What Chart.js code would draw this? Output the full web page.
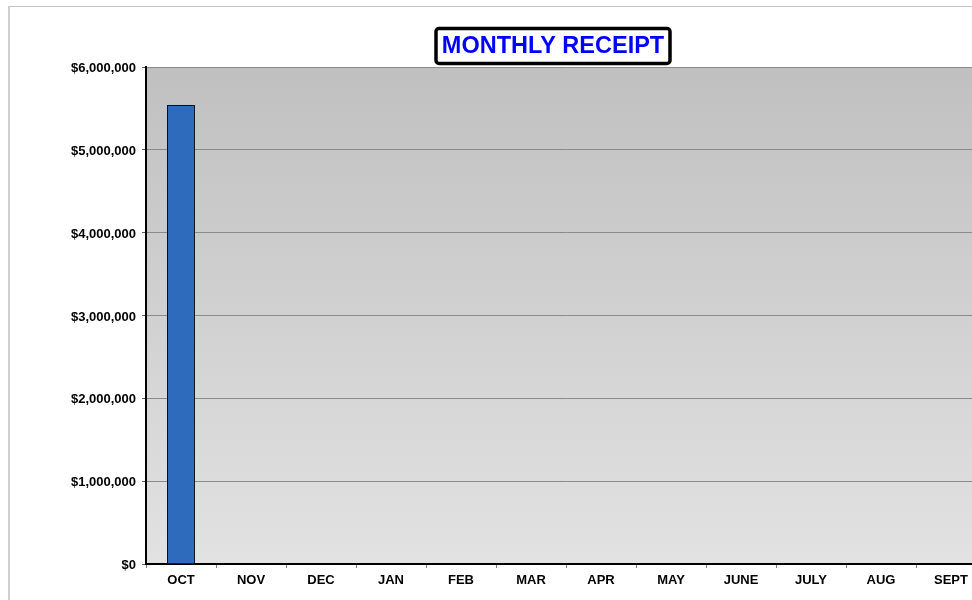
<!DOCTYPE html>
<html>
<head>
<meta charset="utf-8">
<script src="https://cdn.jsdelivr.net/npm/chart.js@4.4.1/dist/chart.umd.min.js"></script>
<style>
  html, body { margin: 0; padding: 0; background: #fff; overflow: hidden; width: 972px; height: 600px; }
  #frame { position: absolute; left: 8px; top: 6px; width: 1200px; height: 800px; border-top: 1px solid #c4c4c4; border-left: 2px solid #d0d0d0; }
  #wrap { position: absolute; left: 0; top: 0; width: 986px; height: 600px; }
</style>
</head>
<body>
<div id="frame"></div>
<div id="wrap"><canvas id="c"></canvas></div>
<script>
const TITLE = 'MONTHLY RECEIPT';
const months = ['OCT', 'NOV', 'DEC', 'JAN', 'FEB', 'MAR', 'APR', 'MAY', 'JUNE', 'JULY', 'AUG', 'SEPT'];
const receipts = [5540000, null, null, null, null, null, null, null, null, null, null, null];
const yTicks = [0, 1000000, 2000000, 3000000, 4000000, 5000000, 6000000];

const bgPlugin = {
  id: 'bg',
  beforeDraw(chart) {
    const { ctx, chartArea: a } = chart;
    const g = ctx.createLinearGradient(0, a.top, 0, a.bottom);
    g.addColorStop(0, '#c0c0c0');
    g.addColorStop(1, '#e2e2e2');
    ctx.save();
    ctx.fillStyle = g;
    ctx.fillRect(a.left, a.top, a.right - a.left, a.bottom - a.top);
    ctx.restore();
  },
  beforeDatasetsDraw(chart) {
    const ctx = chart.ctx;
    ctx.save();
    ctx.shadowColor = 'rgba(0,0,0,0.35)';
    ctx.shadowOffsetX = -2;
    ctx.shadowOffsetY = -1;
    ctx.shadowBlur = 1;
  },
  afterDatasetsDraw(chart) {
    chart.ctx.restore();
  },
  afterDraw(chart) {
    const ctx = chart.ctx;
    ctx.save();
    ctx.font = 'bold 23.5px "Liberation Sans", Arial, sans-serif';
    const cx = 553, cy = 46;
    const bw = 234, bh = 35;
    const x = cx - bw / 2, y = cy - bh / 2;
    ctx.fillStyle = '#fff';
    ctx.strokeStyle = '#000';
    ctx.lineWidth = 3.5;
    ctx.beginPath();
    ctx.roundRect(x, y, bw, bh, 3);
    ctx.fill();
    ctx.stroke();
    ctx.fillStyle = '#0000ff';
    ctx.textAlign = 'center';
    ctx.textBaseline = 'middle';
    ctx.fillText(TITLE, cx, cy + 1);
    ctx.restore();
  }
};

new Chart(document.getElementById('c'), {
  type: 'bar',
  data: {
    labels: months,
    datasets: [{
      data: receipts,
      backgroundColor: '#2e6bbd',
      borderColor: '#101820',
      borderWidth: 1,
      barPercentage: 0.4,
      categoryPercentage: 1.0
    }]
  },
  options: {
    responsive: true,
    maintainAspectRatio: false,
    animation: false,
    layout: { padding: { top: 67, left: 0, right: 0, bottom: 0 } },
    plugins: {
      legend: { display: false },
      title: { display: false },
      tooltip: { enabled: false }
    },
    scales: {
      x: {
        offset: true,
        grid: { offset: true, drawOnChartArea: false, drawTicks: true, tickLength: 4, color: '#808080', tickColor: '#808080' },
        border: { color: '#000', width: 2 },
        ticks: { color: '#000', font: { family: '"Liberation Sans", Arial, sans-serif', size: 13, weight: 'bold' }, padding: 4.5, maxRotation: 0, autoSkip: false },
        afterFit(scale) { scale.height = 36; }
      },
      y: {
        min: 0,
        max: 6000000,
        afterBuildTicks(scale) { scale.ticks = yTicks.map(v => ({ value: v })); },
        grid: { color: '#8a8a8a', lineWidth: 1, tickLength: 4, tickColor: '#606060' },
        border: { color: '#000', width: 2 },
        ticks: {
          color: '#000',
          padding: 6,
          labelOffset: 1.5,
          font: { family: '"Liberation Sans", Arial, sans-serif', size: 13, weight: 'bold' },
          callback: v => '$' + Number(v).toLocaleString('en-US')
        },
        afterFit(scale) { scale.width = 146; }
      }
    }
  },
  plugins: [bgPlugin]
});
</script>
</body>
</html>
